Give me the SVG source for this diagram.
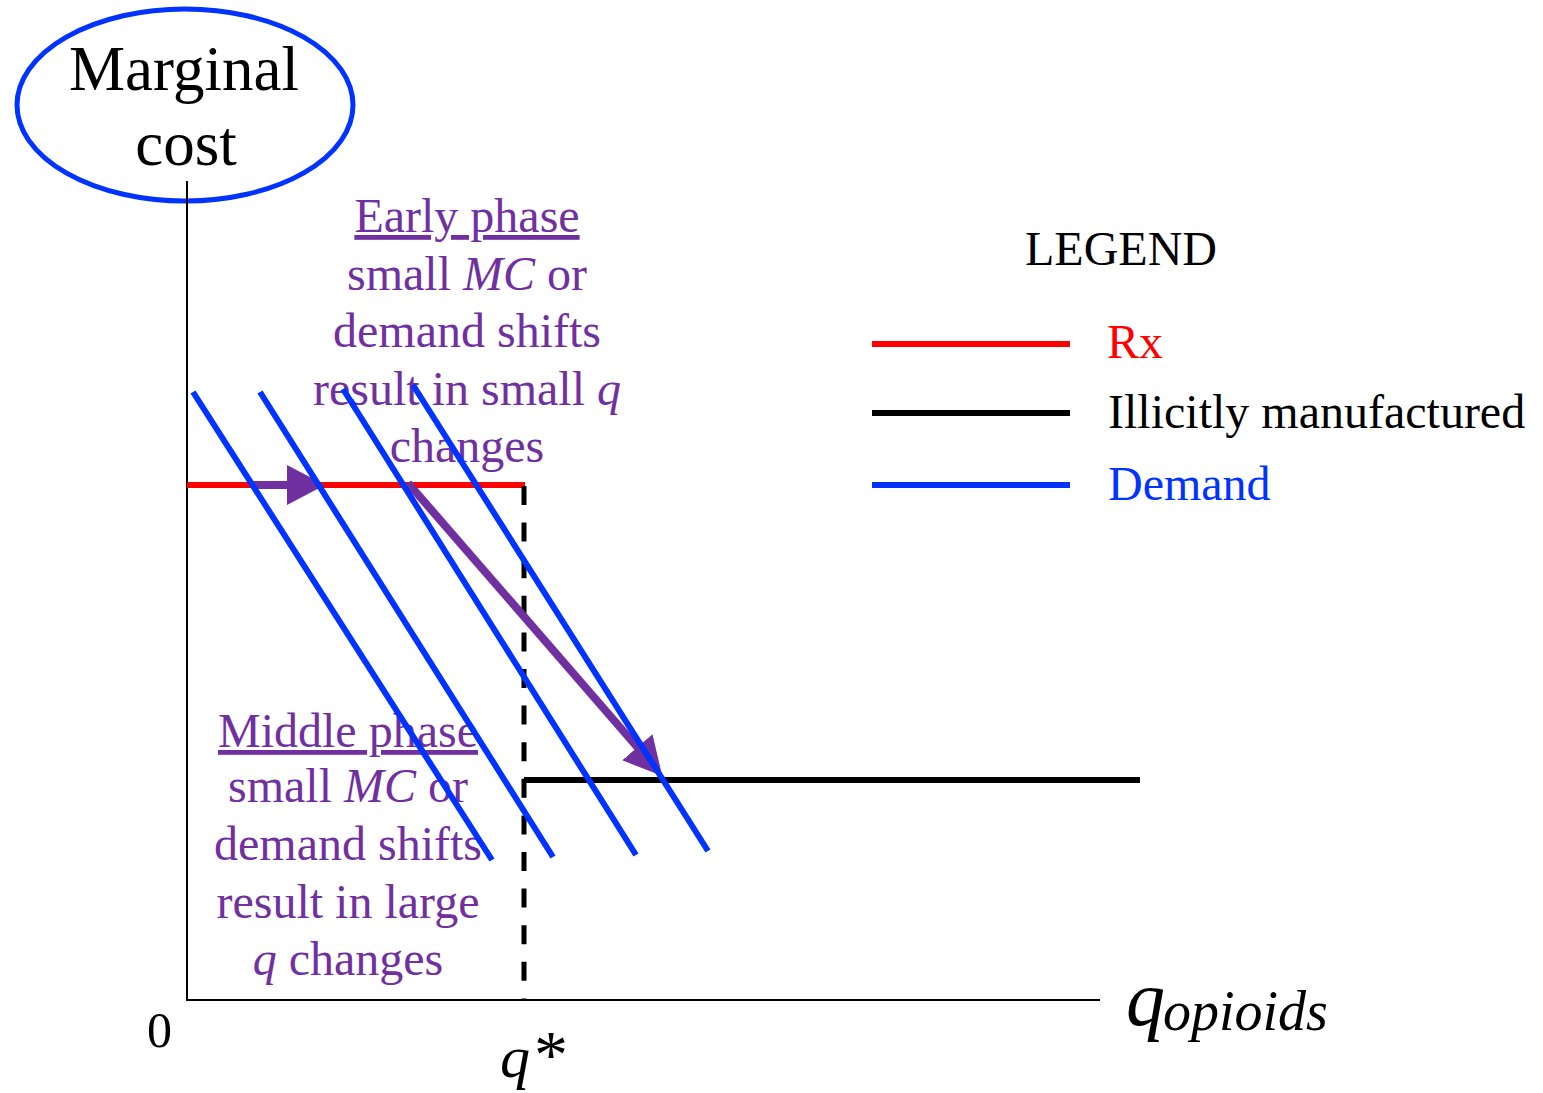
<svg xmlns="http://www.w3.org/2000/svg" width="1543" height="1093" viewBox="0 0 1543 1093">
  <defs>
    <style>
      .serif { font-family: "Liberation Serif", "Times New Roman", serif; }
      .purple { fill: #7030A0; font-size: 48px; text-anchor: middle; }
      .legend { font-size: 48px; }
      .axis { stroke: #000; stroke-width: 2; fill: none; }
      .demand { stroke: #0033FF; stroke-width: 6; fill: none; }
      .arrow { stroke: #7030A0; stroke-width: 8; fill: none; marker-end: url(#head); }
      .it { font-style: italic; }
    </style>
    <marker id="head" markerUnits="userSpaceOnUse" markerWidth="40" markerHeight="42" viewBox="0 -21 40 42" refX="1" refY="0" orient="auto">
      <path d="M0,-20 L38,0 L0,20 Z" fill="#7030A0"/>
    </marker>
  </defs>
  <rect width="1543" height="1093" fill="#fff"/>

  <g id="y-axis-label">
    <ellipse cx="185" cy="105" rx="168" ry="96" fill="none" stroke="#0033FF" stroke-width="5"/>
    <text class="serif" x="184" y="90" font-size="63" text-anchor="middle">Marginal</text>
    <text class="serif" x="186" y="165" font-size="63" text-anchor="middle">cost</text>
  </g>

  <g id="axes">
    <path class="axis" d="M187,181 V1000 H1100"/>
    <text class="serif" x="147" y="1047" font-size="50">0</text>
    <text class="serif" x="500" y="1077" font-size="60"><tspan class="it">q</tspan><tspan dx="4" font-size="68">*</tspan></text>
    <text class="serif" x="1126" y="1025" font-size="78"><tspan class="it">q</tspan><tspan class="it" font-size="56" x="1163" y="1030">opioids</tspan></text>
  </g>

  <g id="supply-curves">
    <line x1="187" y1="485" x2="525" y2="485" stroke="#FF0000" stroke-width="6"/>
    <line x1="524" y1="780" x2="1140" y2="780" stroke="#000" stroke-width="6"/>
    <line x1="524" y1="486" x2="524" y2="1000" stroke="#000" stroke-width="5" stroke-dasharray="19 17.6"/>
  </g>

  <g id="early-phase-note" class="serif purple">
    <text x="467" y="232" text-decoration="underline">Early phase</text>
    <text x="467" y="290">small <tspan class="it">MC</tspan> or</text>
    <text x="467" y="347">demand shifts</text>
    <text x="467" y="405">result in small <tspan class="it">q</tspan></text>
    <text x="467" y="462">changes</text>
  </g>

  <g id="middle-phase-note" class="serif purple">
    <text x="348" y="747" text-decoration="underline">Middle phase</text>
    <text x="348" y="802">small <tspan class="it">MC</tspan> or</text>
    <text x="348" y="860">demand shifts</text>
    <text x="348" y="918">result in large</text>
    <text x="348" y="975"><tspan class="it">q</tspan> changes</text>
  </g>

  <g id="connectors">
    <line class="arrow" x1="253" y1="485" x2="288" y2="485"/>
    <line class="arrow" x1="408" y1="483" x2="638" y2="748"/>
  </g>

  <g id="demand-curves">
    <line class="demand" x1="193" y1="392" x2="492" y2="860"/>
    <line class="demand" x1="260" y1="392" x2="553" y2="857"/>
    <line class="demand" x1="343" y1="389" x2="636" y2="855"/>
    <line class="demand" x1="413" y1="385" x2="708" y2="851"/>
  </g>

  <g id="legend" class="serif legend">
    <text x="1025" y="265">LEGEND</text>
    <line x1="872" y1="344" x2="1070" y2="344" stroke="#FF0000" stroke-width="6"/>
    <text x="1107" y="358" fill="#FF0000">Rx</text>
    <line x1="872" y1="413" x2="1070" y2="413" stroke="#000" stroke-width="6"/>
    <text x="1108" y="428">Illicitly manufactured</text>
    <line x1="872" y1="485" x2="1070" y2="485" stroke="#0033FF" stroke-width="6"/>
    <text x="1108" y="500" fill="#0033FF">Demand</text>
  </g>
</svg>
